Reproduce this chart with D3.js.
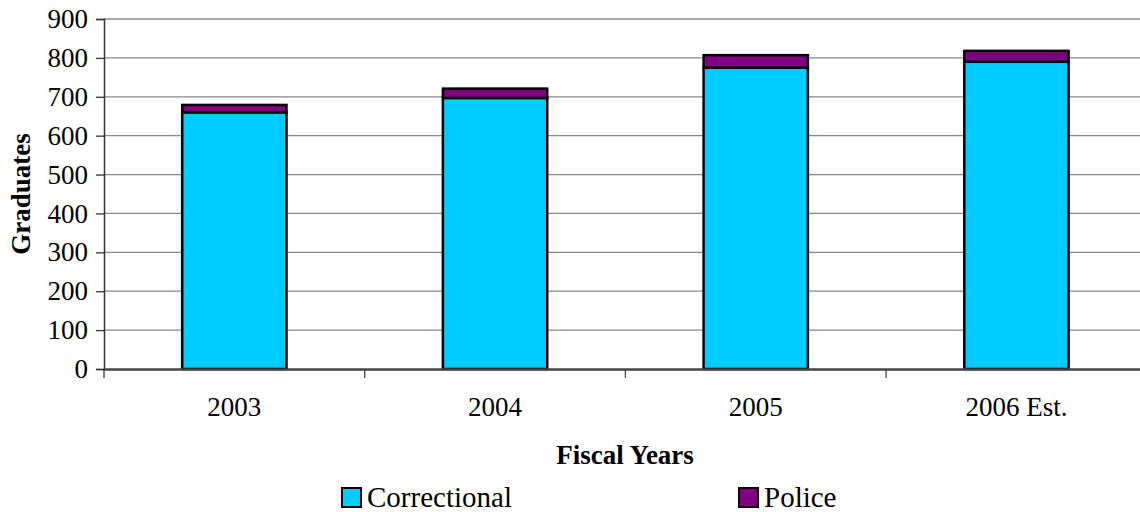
<!DOCTYPE html>
<html><head><meta charset="utf-8">
<script src="https://cdn.jsdelivr.net/npm/d3@7"></script>
<style>body{margin:0;background:#fff}svg{display:block}svg text{font-family:"Liberation Serif","Times New Roman",serif !important;fill:#000}</style>
</head><body><svg id="c" width="1140" height="512"></svg>
<script>
const categories = ["2003", "2004", "2005", "2006 Est."];
const correctional = [660, 697, 775, 790];
const police = [19, 24, 32, 28];
const seriesNames = ["Correctional", "Police"];
const seriesColors = ["#00CCFF", "#800080"];
const yTicks = [0, 100, 200, 300, 400, 500, 600, 700, 800, 900];

(function () {
const svg = d3.select("#c");
const pL = 104, pR = 1146.8, pT = 19, pB = 369;
const x = d3.scaleBand().domain(categories).range([pL, pR]).paddingInner(0.6).paddingOuter(0.3);
const xb = d3.scaleBand().domain(categories).range([pL, pR]);
const y = d3.scaleLinear().domain([0, 900]).range([pB, pT]);

svg.append("g").selectAll("line").data(yTicks.filter(d => d > 0)).join("line")
  .attr("x1", pL).attr("x2", pR).attr("y1", d => y(d)).attr("y2", d => y(d))
  .attr("stroke", "#888").attr("stroke-width", 1.3);

const rows = categories.map((c, i) => ({cat: c, Correctional: correctional[i], Police: police[i]}));
const stack = d3.stack().keys(seriesNames)(rows);
svg.append("g").selectAll("g").data(stack).join("g")
  .attr("fill", (d, i) => seriesColors[i])
  .selectAll("rect").data(d => d).join("rect")
  .attr("x", d => x(d.data.cat)).attr("width", x.bandwidth())
  .attr("y", d => y(d[1])).attr("height", d => y(d[0]) - y(d[1]))
  .attr("stroke", "#000").attr("stroke-width", 2.5);

const ya = svg.append("g").attr("transform", `translate(${pL},0)`)
  .call(d3.axisLeft(y).tickValues(yTicks).tickSize(8).tickPadding(8));
ya.attr("font-family", null);
ya.select(".domain").attr("stroke", "#333").attr("stroke-width", 1.5);
ya.selectAll(".tick line").attr("stroke", "#333").attr("stroke-width", 1.3);
ya.selectAll("text").attr("font-size", 27).attr("fill", "#000");

const xa = svg.append("g").attr("transform", `translate(0,${pB})`)
  .call(d3.axisBottom(xb).tickSize(0));
xa.attr("font-family", null);
xa.select(".domain").attr("stroke", "#444").attr("stroke-width", 2.5);
xa.selectAll("text").attr("font-size", 27).attr("fill", "#000").attr("y", 47).attr("dy", null);
xa.selectAll(".tickmark").data(categories.slice(1)).join("line").attr("class", "tickmark")
  .attr("x1", d => xb(d)).attr("x2", d => xb(d)).attr("y1", 0).attr("y2", 9)
  .attr("stroke", "#444").attr("stroke-width", 1.3);
xa.append("line").attr("x1", pL).attr("x2", pL).attr("y1", 0).attr("y2", 9).attr("stroke", "#333").attr("stroke-width", 1.3);

svg.append("text").attr("x", 625).attr("y", 464).attr("text-anchor", "middle")
  .attr("font-size", 27).attr("font-weight", "bold").text("Fiscal Years");
svg.append("text").attr("transform", "translate(30,194) rotate(-90)").attr("text-anchor", "middle")
  .attr("font-size", 27).attr("font-weight", "bold").text("Graduates");

const legX = [342, 739];
const lg = svg.append("g").selectAll("g").data(seriesNames).join("g")
  .attr("transform", (d, i) => `translate(${legX[i]},488)`);
lg.append("rect").attr("width", 19).attr("height", 19).attr("fill", (d, i) => seriesColors[i])
  .attr("stroke", "#000").attr("stroke-width", 2);
lg.append("text").attr("x", 25).attr("y", 19).attr("font-size", 29).text(d => d);
})();
</script></body></html>
